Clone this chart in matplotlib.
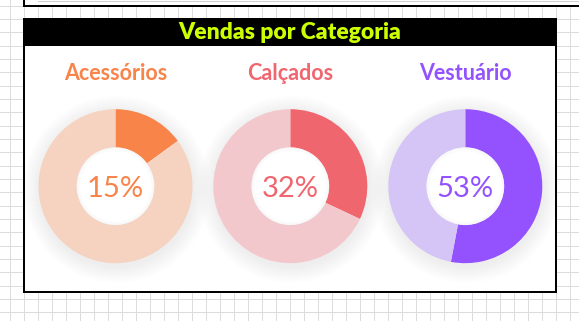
"""
Vendas por Categoria - three donut cards on a spreadsheet-like background
"""

import numpy as np
import matplotlib.pyplot as plt
from matplotlib.patches import Rectangle, Circle

# Data
categories = ["Acessórios", "Calçados", "Vestuário"]
shares = [15, 32, 53]  # percent of sales
title = "Vendas por Categoria"

# Styles
dark_colors = ["#F8844A", "#F0666F", "#9452FE"]
light_colors = ["#F6D2C0", "#F3C8CC", "#D5C4F6"]
TITLE_COLOR = "#CCFF00"
GRID_COLOR = "#DCDCDC"

W, H = 579, 321
PX = 0.72  # one pixel in points at dpi 100


def py(y):
    """Convert a top-down pixel row into axis y"""
    return H - y


fig = plt.figure(figsize=(W / 100, H / 100), dpi=100)
ax = fig.add_axes([0, 0, 1, 1])
ax.set_xlim(0, W)
ax.set_ylim(0, H)
ax.axis("off")

# Spreadsheet grid
for x in np.arange(10.3, W, 14.0):
    ax.plot([x, x], [0, H], color=GRID_COLOR, lw=PX, zorder=0)
for y in np.arange(5.7, H, 13.33):
    ax.plot([0, W], [py(y), py(y)], color=GRID_COLOR, lw=PX, zorder=0)

# Top box (partially visible)
ax.add_patch(Rectangle((24, py(6)), W, 10, facecolor="white", edgecolor="none", zorder=1))
ax.plot([24, W], [py(5.8), py(5.8)], color="black", lw=2 * PX, zorder=2)
ax.plot([24, 24], [py(5.8), H], color="black", lw=2 * PX, zorder=2)
ax.plot([38, W], [py(0.6), py(0.6)], color="#CFCFCF", lw=PX, zorder=2)

# Main card
left, right, top, bottom = 24, 555.7, 19.3, 292
ax.add_patch(
    Rectangle(
        (left, py(bottom)),
        right - left,
        bottom - top,
        facecolor="white",
        edgecolor="black",
        lw=2 * PX,
        zorder=1,
    )
)
ax.add_patch(Rectangle((left, py(45.7)), right - left, 45.7 - top, facecolor="black", zorder=2))
ax.text(
    (left + right) / 2,
    py(38.6),
    title,
    color=TITLE_COLOR,
    fontsize=16.5,
    fontweight="heavy",
    family="Lato",
    ha="center",
    va="baseline",
    zorder=3,
)

# Donuts
centers_x = [115.5, 290.3, 465.3]
cy = 186.2
R_OUT, R_IN = 77.0, 38.6

for i, cat in enumerate(categories):
    cx = centers_x[i]
    # soft drop shadow
    for s in range(1, 18):
        ax.add_patch(
            Circle((cx + 1, py(cy + 3)), R_OUT + s, facecolor="black", edgecolor="none", alpha=0.0055, zorder=3)
        )
    ax.pie(
        [shares[i], 100 - shares[i]],
        colors=[dark_colors[i], light_colors[i]],
        startangle=90,
        counterclock=False,
        center=(cx, py(cy)),
        radius=R_OUT,
        frame=True,
        wedgeprops=dict(width=R_OUT - R_IN, edgecolor="none", zorder=4),
    )
    # white hole with a faint inner shadow
    ax.add_patch(Circle((cx, py(cy)), R_IN + 0.3, facecolor="white", edgecolor="none", zorder=4.5))
    for s in range(4):
        ax.add_patch(
            Circle(
                (cx, py(cy)),
                R_IN - s,
                fill=False,
                edgecolor="black",
                lw=PX,
                alpha=0.03 * (4 - s) / 4,
                zorder=5,
            )
        )
    ax.text(
        cx,
        py(80),
        cat,
        color=dark_colors[i],
        fontsize=15.5,
        fontweight="bold",
        family="Lato",
        ha="center",
        va="baseline",
        zorder=6,
    )
    ax.text(
        cx,
        py(196.7),
        f"{shares[i]}%",
        color=dark_colors[i],
        fontsize=21,
        family="Lato",
        ha="center",
        va="baseline",
        zorder=6,
    )

ax.set_xlim(0, W)
ax.set_ylim(0, H)
ax.set_aspect("auto")

fig.savefig("out.png", dpi=100)
plt.close(fig)
